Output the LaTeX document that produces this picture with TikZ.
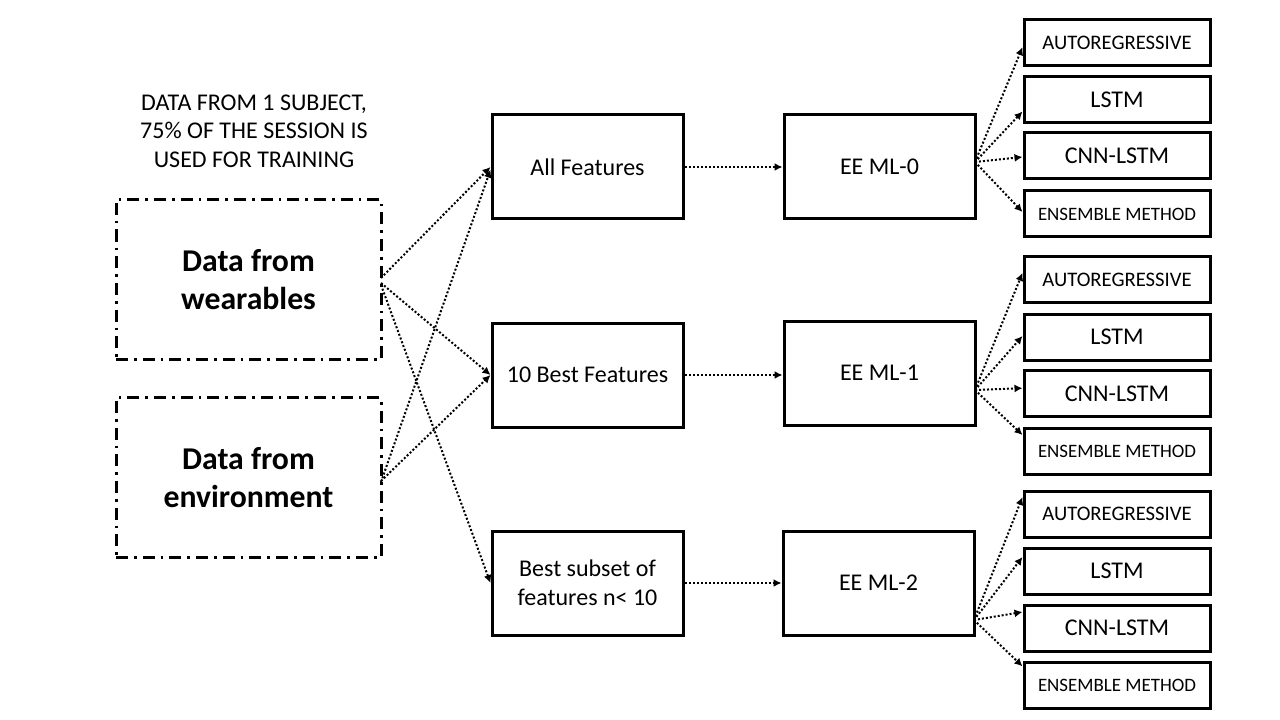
\documentclass[tikz,border=0pt]{standalone}
\usepackage{fontspec}
\setmainfont{Carlito}
\usetikzlibrary{arrows.meta}
\begin{document}
\begin{tikzpicture}[x=0.75pt,y=-0.75pt,
  box/.style={draw,line width=2.25pt,inner sep=0pt,align=center,minimum width=143.25pt,minimum height=78pt,font=\fontsize{18}{22}\selectfont},
  rbox/.style={draw,line width=2.25pt,inner sep=0pt,align=center,minimum width=139.5pt,minimum height=34.5pt},
  dbox/.style={draw,line width=2.25pt,inner sep=0pt,align=center,minimum width=198.75pt,minimum height=120pt,
     dash pattern=on 9pt off 4.5pt on 2pt off 4.5pt,font=\bfseries\fontsize{23.8}{28}\selectfont},
  arr/.style={line width=1.5pt,dash pattern=on 1.5pt off 1.5pt,-{Latex[length=6pt,width=6pt]}},
  arfont/.style={font=\fontsize{15.5}{18}\selectfont},
  lsfont/.style={font=\fontsize{18}{21}\selectfont},
  enfont/.style={font=\fontsize{14.2}{16}\selectfont}]
\useasboundingbox (0,0) rectangle (1280,720);

\node[align=center,font=\fontsize{18}{21.4}\selectfont] (title) at (254,131) {DATA FROM 1 SUBJECT,\\75\% OF THE SESSION IS\\USED FOR TRAINING};

\node[dbox] (wear) at (248.5,279.5) {Data from\\wearables};
\node[dbox] (env) at (248.5,477.5) {Data from\\environment};

\node[box] (allf) at (587.5,167) {All Features};
\node[box] (best) at (587.5,375) {10 Best Features};
\node[box] (sub) at (587.5,583) {Best subset of\\features n< 10};

\node[box] (ee0) at (879.5,167) {EE ML-0};
\node[box] (ee1) at (879.5,373) {EE ML-1};
\node[box] (ee2) at (878.5,583) {EE ML-2};

% right boxes
\foreach \g/\ya/\yb/\yc/\yd in {0/42.5/99.5/156/214, 1/279.5/337/393.5/451, 2/514/571/628/685}{
  \node[rbox,arfont] (ar\g) at (1117,\ya) {AUTOREGRESSIVE};
  \node[rbox,lsfont] (ls\g) at (1117,\yb) {LSTM};
  \node[rbox,lsfont] (cn\g) at (1117,\yc) {CNN-LSTM};
  \node[rbox,enfont] (en\g) at (1117,\yd) {ENSEMBLE METHOD};
}

% left connectors
\coordinate (w1) at (381,278);
\coordinate (w2) at (381,283);
\coordinate (w3) at (381,285);
\coordinate (e1) at (381,482);
\coordinate (e2) at (381,481);
\draw[arr] (w1) -- ([yshift=0pt]allf.west);
\draw[arr] (w2) -- (best.west);
\draw[arr] (w3) -- (sub.west);
\draw[arr] (e1) -- ([yshift=-2pt]allf.west);
\draw[arr] (e2) -- (best.west);

% middle connectors
\draw[arr] (allf.east) -- (ee0.west);
\draw[arr] (best.east) -- (ee1.west |- best.east);
\draw[arr] (sub.east) -- (ee2.west |- sub.east);

% fan-outs
\coordinate (s0) at (975,162);
\coordinate (s1) at (975,390);
\coordinate (s2) at (974,620);
\draw[arr] (s0) -- ([yshift=-3.5pt]ar0.west);
\draw[arr] (s0) -- ([yshift=-9pt]ls0.west);
\draw[arr] (s0) -- ([yshift=-0.75pt]cn0.west);
\draw[arr] (s0) -- ([yshift=1.5pt]en0.west);
\draw[arr] (s1) -- ([yshift=5pt]ar1.west);
\draw[arr] (s1) -- ([yshift=0.75pt]ls1.west);
\draw[arr] (s1) -- ([yshift=4pt]cn1.west);
\draw[arr] (s1) -- ([yshift=12pt]en1.west);
\draw[arr] (s2) -- ([yshift=12.75pt]ar2.west);
\draw[arr] (s2) -- ([yshift=10.5pt]ls2.west);
\draw[arr] (s2) -- ([yshift=12pt]cn2.west);
\draw[arr] (s2) -- ([yshift=14pt]en2.west);
\end{tikzpicture}
\end{document}
